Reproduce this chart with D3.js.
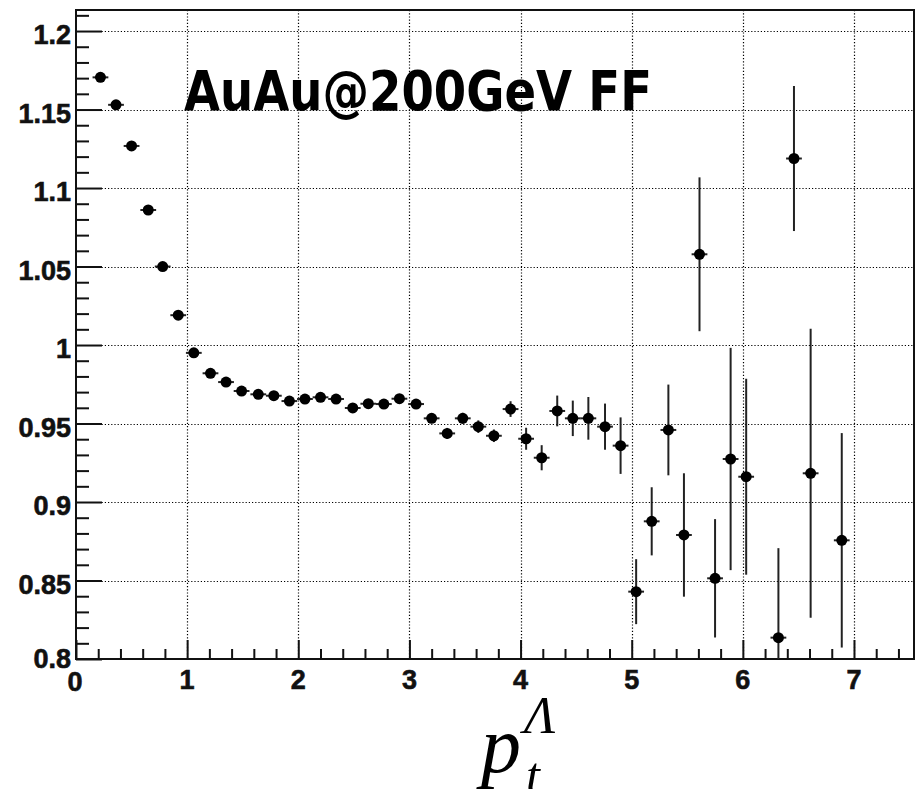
<!DOCTYPE html>
<html>
<head>
<meta charset="utf-8">
<script src="https://cdn.jsdelivr.net/npm/d3@7"></script>
<style>
  html, body { margin: 0; padding: 0; background: #fff; }
  svg { display: block; }
</style>
</head>
<body>
<div id="chart"></div>
<script>
// bin centres (pt)
const ptValues = [0.22, 0.36, 0.50, 0.65, 0.78, 0.92, 1.06, 1.21, 1.35, 1.49,
  1.64, 1.78, 1.92, 2.06, 2.20, 2.34, 2.49, 2.63, 2.77, 2.91,
  3.06, 3.20, 3.34, 3.48, 3.62, 3.76, 3.91, 4.05, 4.19, 4.33,
  4.47, 4.61, 4.76, 4.90, 5.04, 5.18, 5.33, 5.47, 5.61, 5.75,
  5.89, 6.03, 6.32, 6.46, 6.61, 6.89];
const ratioValues = [1.1705, 1.153, 1.1268, 1.086, 1.050, 1.019, 0.995, 0.982, 0.9764, 0.9707,
  0.9686, 0.9677, 0.9643, 0.9656, 0.9667, 0.9656, 0.9599, 0.9626, 0.9624, 0.9658,
  0.9624, 0.9533, 0.9437, 0.9533, 0.948, 0.9422, 0.9592, 0.9403, 0.9282, 0.958,
  0.9533, 0.9533, 0.948, 0.9359, 0.8429, 0.8877, 0.9459, 0.879, 1.0578, 0.8514,
  0.9274, 0.9161, 0.8136, 1.1188, 0.9183, 0.8756];
const ratioErrors = [0.001, 0.001, 0.001, 0.001, 0.001, 0.0015, 0.0015, 0.002, 0.002, 0.002,
  0.002, 0.002, 0.002, 0.002, 0.002, 0.0025, 0.0025, 0.0025, 0.0025, 0.003,
  0.003, 0.003, 0.0035, 0.0035, 0.004, 0.004, 0.005, 0.007, 0.008, 0.0098,
  0.0113, 0.0136, 0.0147, 0.018, 0.0207, 0.0217, 0.0289, 0.0393, 0.049, 0.0377,
  0.0708, 0.0624, 0.057, 0.0462, 0.092, 0.0683];
const binHalfWidth = 0.071;

const xMajorTicks = [0, 1, 2, 3, 4, 5, 6, 7];
const yMajorTicks = [0.8, 0.85, 0.9, 0.95, 1, 1.05, 1.1, 1.15, 1.2];
const titleText = "AuAu@200GeV FF";

const W = 916, H = 789;
const frame = { left: 76, right: 914, top: 10, bottom: 659 };

const svg = d3.select("#chart").append("svg")
  .attr("width", W).attr("height", H);

const x = d3.scaleLinear().domain([0, 7.54]).range([frame.left, frame.right]);
const y = d3.scaleLinear().domain([0.8, 1.2134]).range([frame.bottom, frame.top]);

// grid (dotted, at major ticks)
const grid = svg.append("g").attr("stroke", "#000").attr("stroke-width", 1.2)
  .attr("stroke-dasharray", "1.2,2");
grid.selectAll("line.gx").data(xMajorTicks.filter(d => d > 0)).enter().append("line")
  .attr("x1", d => Math.round(x(d)) + 0.5).attr("x2", d => Math.round(x(d)) + 0.5)
  .attr("y1", frame.top).attr("y2", frame.bottom);
grid.selectAll("line.gy").data(yMajorTicks.filter(d => d > 0.8)).enter().append("line")
  .attr("x1", frame.left).attr("x2", frame.right)
  .attr("y1", d => Math.round(y(d)) + 0.5).attr("y2", d => Math.round(y(d)) + 0.5);

// axes: ticks point inward
const xMinor = d3.range(0, 7.5, 0.2).filter(v => Math.abs(v - Math.round(v)) > 1e-6);
const yMinor = d3.range(0.8, 1.2134, 0.01).filter(v => Math.abs(v * 20 - Math.round(v * 20)) > 1e-6);

const xAxis = svg.append("g").attr("transform", `translate(0,${frame.bottom})`)
  .call(d3.axisTop(x).tickValues(xMajorTicks).tickSize(19).tickFormat(""));
const xAxisMinor = svg.append("g").attr("transform", `translate(0,${frame.bottom})`)
  .call(d3.axisTop(x).tickValues(xMinor).tickSize(10).tickFormat(""));
const yAxis = svg.append("g").attr("transform", `translate(${frame.left},0)`)
  .call(d3.axisRight(y).tickValues(yMajorTicks).tickSize(26).tickFormat(""));
const yAxisMinor = svg.append("g").attr("transform", `translate(${frame.left},0)`)
  .call(d3.axisRight(y).tickValues(yMinor).tickSize(13).tickFormat(""));
[xAxis, xAxisMinor, yAxis, yAxisMinor].forEach(g => {
  g.select(".domain").remove();
  g.selectAll("line").attr("stroke", "#111").attr("stroke-width", 2);
});

// frame
svg.append("rect")
  .attr("x", frame.left).attr("y", frame.top)
  .attr("width", frame.right - frame.left).attr("height", frame.bottom - frame.top)
  .attr("fill", "none").attr("stroke", "#111").attr("stroke-width", 2);

// tick labels
const labelFont = "'Liberation Sans', Arial, Helvetica, sans-serif";
svg.append("g").selectAll("text").data(yMajorTicks).enter().append("text")
  .attr("x", 71)
  .attr("y", d => y(d) + (d === 0.8 ? 9 : 13))
  .attr("text-anchor", "end")
  .attr("font-family", labelFont).attr("font-weight", "bold").attr("font-size", 27)
  .attr("fill", "#111").attr("stroke", "#111").attr("stroke-width", 0.6)
  .text(d => d3.format("")(d));
svg.append("g").selectAll("text").data(xMajorTicks).enter().append("text")
  .attr("x", d => d === 0 ? x(d) - 1 : x(d))
  .attr("y", d => d === 0 ? 691 : 689)
  .attr("text-anchor", "middle")
  .attr("font-family", labelFont).attr("font-weight", "bold").attr("font-size", 27)
  .attr("fill", "#111").attr("stroke", "#111").attr("stroke-width", 0.6)
  .text(d => d);

// data: error bars + markers
const clip = svg.append("clipPath").attr("id", "plotClip").append("rect")
  .attr("x", frame.left).attr("y", frame.top)
  .attr("width", frame.right - frame.left).attr("height", frame.bottom - frame.top);
const plot = svg.append("g").attr("clip-path", "url(#plotClip)");
const points = ptValues.map((p, i) => ({ pt: p, r: ratioValues[i], e: ratioErrors[i] }));

plot.selectAll("line.ey").data(points).enter().append("line")
  .attr("x1", d => x(d.pt)).attr("x2", d => x(d.pt))
  .attr("y1", d => y(d.r - d.e)).attr("y2", d => y(d.r + d.e))
  .attr("stroke", "#222").attr("stroke-width", 2);
plot.selectAll("line.ex").data(points).enter().append("line")
  .attr("x1", d => x(d.pt - binHalfWidth)).attr("x2", d => x(d.pt + binHalfWidth))
  .attr("y1", d => y(d.r)).attr("y2", d => y(d.r))
  .attr("stroke", "#222").attr("stroke-width", 2);
plot.selectAll("circle").data(points).enter().append("circle")
  .attr("cx", d => x(d.pt)).attr("cy", d => y(d.r))
  .attr("r", 5.5).attr("fill", "#000");

// title inside the frame
svg.append("text")
  .attr("x", 184).attr("y", 110)
  .attr("font-family", "'DejaVu Sans', Verdana, sans-serif")
  .attr("font-weight", "bold").attr("font-size", 55)
  .attr("textLength", 468).attr("lengthAdjust", "spacingAndGlyphs")
  .attr("fill", "#000")
  .text(titleText);

// x axis title: p_t^Lambda
const serif = "'Liberation Serif', 'Times New Roman', serif";
const xt = svg.append("g").attr("font-family", serif).attr("font-style", "italic").attr("fill", "#000");
xt.append("text").attr("x", 481).attr("y", 772).attr("font-size", 80).text("p");
xt.append("text").attr("x", 526).attr("y", 792).attr("font-size", 50).text("t");
xt.append("text").attr("x", 524).attr("y", 733).attr("font-size", 52).text("\u039B");
</script>
</body>
</html>
